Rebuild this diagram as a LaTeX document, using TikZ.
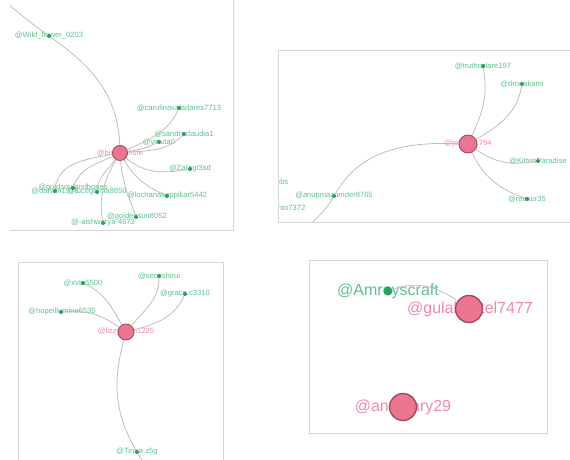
\documentclass[tikz,border=0pt]{standalone}
\usepackage{fontspec}
\setmainfont{Liberation Sans}
\usepackage{tikz}

\definecolor{usrgreen}{HTML}{5FC08F}
\definecolor{dotgreen}{HTML}{27A062}
\definecolor{hubpink}{HTML}{EC7590}
\definecolor{hubrim}{HTML}{A04A5E}
\definecolor{hubtext}{HTML}{F28AA6}
\definecolor{linkgray}{HTML}{C2BEB6}
\definecolor{framegray}{HTML}{D6D6D6}

\tikzset{
  usr/.style={text=usrgreen, font=\fontsize{7.6}{8}\selectfont, inner sep=0pt},
  hublbl/.style={usr, text=hubtext},
  biglbl/.style={font=\fontsize{16}{18}\selectfont},
  usrdot/.style={circle, fill=dotgreen, inner sep=0pt, minimum size=4pt},
  hub/.style={circle, fill=hubpink, draw=hubrim, line width=0.9pt, inner sep=0pt, minimum size=15pt},
  link/.style={draw=linkgray, line width=0.8pt},
  panelframe/.style={draw=framegray, line width=0.8pt}
}

\begin{document}
\begin{tikzpicture}[x=1pt,y=1pt]
\useasboundingbox (0,0) rectangle (570,459);

% top left
\begin{scope}
  \clip (10,229) rectangle (233,454);
  \node[usr] (wild-l) at (49,423) {@Wild\_flower\_0203};
  \node[usr] (carol-l) at (179,351) {@carolinavaladares7713};
  \node[usr] (sandra-l) at (184,325) {@sandraclaudia1};
  \node[usr] (vinuta-l) at (159,317) {@vinuta0};
  \node[usr] (zara-l) at (190,290) {@Zaragt3sd};
  \node[usr] (lochana-l) at (167,263) {@lochanakoppikar5442};
  \node[usr] (golden-l) at (137,242) {@goldensun8052};
  \node[usr] (aish-l) at (103,236) {@-aishwarya-4673};
  \node[usr] (darwin-l) at (55,268) {@darwin1978};
  \node[usr] (goldsoul-l) at (73,271) {@goldsoulandbones};
  \node[usr] (luce-l) at (97,267) {@lucegarcia8850};
  \node[hublbl] (bis-l) at (120,306) {@bismochsfe};
  \node[usrdot] (wild) at (49,423) {};
  \node[usrdot] (carol) at (179,351) {};
  \node[usrdot] (sandra) at (184,325) {};
  \node[usrdot] (vinuta) at (159,317) {};
  \node[usrdot] (zara) at (190,290) {};
  \node[usrdot] (lochana) at (167,263) {};
  \node[usrdot] (golden) at (136,242) {};
  \node[usrdot] (aish) at (103,236) {};
  \node[usrdot] (darwin) at (55,268) {};
  \node[usrdot] (goldsoul) at (73,271) {};
  \node[usrdot] (luce) at (97,267) {};
  \node[hub] (bis) at (120,306) {};
  \coordinate (off1) at (-12,470);
  \draw[link] (bis) to[out=92,in=-35] (wild) to[out=145,in=-35] (off1);
  \draw[link] (bis) to[out=25,in=-115] (carol);
  \draw[link] (bis) to[out=5,in=-135] (sandra);
  \draw[link] (bis) to[out=10,in=-155] (vinuta);
  \draw[link] (bis) to[out=-40,in=190] (zara);
  \draw[link] (bis) to[out=-60,in=155] (lochana);
  \draw[link] (bis) to[out=-85,in=110] (golden);
  \draw[link] (bis) to[out=-120,in=100] (aish);
  \draw[link] (bis) to[out=-125,in=85] (luce);
  \draw[link] (bis) to[out=-155,in=70] (goldsoul);
  \draw[link] (bis) to[out=-170,in=85] (darwin);
\end{scope}
\draw[panelframe] (10,229) -- (233,229) -- (233,459);

% top right
\begin{scope}
  \clip (278,237) rectangle (575,409);
  \node[usr] (truth-l) at (483,393) {@truthoclare197};
  \node[usr] (drona-l) at (522,375) {@dronakami};
  \node[usr] (kitten-l) at (538,298) {@KittenParadise};
  \node[usr] (reesur-l) at (527,260) {@reesur35};
  \node[usr] (anup-l) at (334,263) {@anupmazumder8765};
  \node[usr, anchor=east] (bs-l) at (288.5,277) {@littlebs};
  \node[usr, anchor=east] (pinto-l) at (305.5,250) {@pinto7372};
  \node[hublbl] (joseph-l) at (468,315) {@joseph1794};
  \node[usrdot] (truth) at (483,393) {};
  \node[usrdot] (drona) at (522,375) {};
  \node[usrdot] (kitten) at (538,298) {};
  \node[usrdot] (reesur) at (527,260) {};
  \node[usrdot] (anup) at (334,263) {};
  \node[hub, minimum size=18pt] (joseph) at (468,315) {};
  \coordinate (off2) at (298,220);
  \draw[link] (joseph) to[out=65,in=-80] (truth);
  \draw[link] (joseph) to[out=30,in=-100] (drona);
  \draw[link] (joseph) to[out=-35,in=190] (kitten);
  \draw[link] (joseph) to[out=-65,in=160] (reesur);
  \draw[link] (joseph) to[out=178,in=60] (anup) to[out=-120,in=55] (off2);
\end{scope}
\draw[panelframe] (575,409) -- (278,409) -- (278,237) -- (575,237);

% bottom left
\begin{scope}
  \clip (18,-5) rectangle (223,197);
  \node[usr] (xvte-l) at (83,176) {@xvte5500};
  \node[usr] (seco-l) at (159,183) {@secoshirui};
  \node[usr] (grace-l) at (185,165) {@grace.c3310};
  \node[usr] (hope-l) at (62,147) {@hopeillumine6535};
  \node[usr] (tinna-l) at (137,7) {@Tinna-z5g};
  \node[hublbl] (lizzy-l) at (126,127) {@lizzymom1225};
  \node[usrdot] (xvte) at (83,176) {};
  \node[usrdot] (seco) at (159,183) {};
  \node[usrdot] (grace) at (185,165) {};
  \node[usrdot] (hope) at (61,147) {};
  \node[usrdot] (tinna) at (137,7) {};
  \node[hub, minimum size=16pt] (lizzy) at (126,127) {};
  \coordinate (off3) at (150,-15);
  \draw[link] (lizzy) to[out=120,in=-25] (xvte);
  \draw[link] (lizzy) to[out=50,in=-90] (seco);
  \draw[link] (lizzy) to[out=15,in=-115] (grace);
  \draw[link] (lizzy) to[out=145,in=5] (hope);
  \draw[link] (lizzy) to[out=-105,in=120] (tinna) to[out=-60,in=115] (off3);
\end{scope}
\draw[panelframe] (18,-5) -- (18,197) -- (223,197) -- (223,-5);

% bottom right
\node[usr, biglbl] (amrey-l) at (388,168) {@Amreyscraft};
\node[hublbl, biglbl] (gulab-l) at (470,150) {@gulabpatel7477};
\node[hublbl, biglbl] (anu-l) at (403,52) {@anumary29};
\node[usrdot, minimum size=9pt] (amrey) at (388,168) {};
\node[hub, minimum size=27pt, line width=1.4pt] (gulab) at (469,150) {};
\node[hub, minimum size=27pt, line width=1.4pt] (anu) at (403,52) {};
\draw[link] (amrey) to[out=20,in=145] (gulab);
\draw[panelframe] (309,26) rectangle (547,199);
\end{tikzpicture}
\end{document}
